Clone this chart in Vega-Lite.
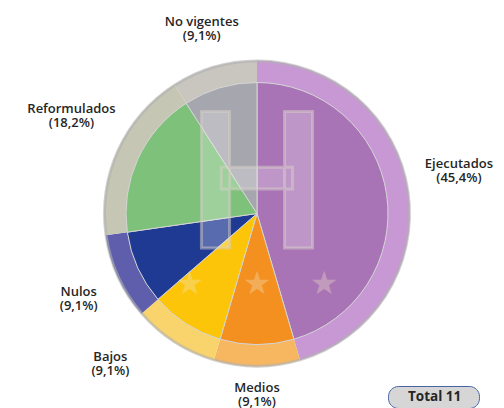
{
  "$schema": "https://vega.github.io/schema/vega-lite/v6.json",
  "width": 444,
  "height": 389,
  "autosize": "none",
  "padding": {"left": 35, "right": 25, "top": 19, "bottom": 0},
  "background": "white",
  "config": {
    "view": {"stroke": null},
    "text": {"font": "Open Sans", "fontWeight": 600, "fontSize": 13, "color": "#262626", "lineBreak": "\n", "lineHeight": 14},
    "legend": {
      "orient": "bottom-right",
      "offset": 0,
      "padding": 4,
      "fillColor": "#d6d6d6",
      "strokeColor": "#4763a6",
      "cornerRadius": 10,
      "labelFont": "Open Sans",
      "labelFontWeight": "bold",
      "labelFontSize": 13.5,
      "labelColor": "#262626",
      "labelOffset": 2,
      "symbolSize": 196,
      "symbolOpacity": 0,
      "symbolStrokeWidth": 0,
      "titleOrient": "right",
      "titlePadding": 14,
      "titleFontSize": 11
    }
  },
  "datasets": {
    "estados": [
      {"estado": "Ejecutados", "n": 5, "orden": 1, "label": "Ejecutados\n(45,4%)"},
      {"estado": "Medios", "n": 1, "orden": 2, "label": "Medios\n(9,1%)"},
      {"estado": "Bajos", "n": 1, "orden": 3, "label": "Bajos\n(9,1%)"},
      {"estado": "Nulos", "n": 1, "orden": 4, "label": "Nulos\n(9,1%)"},
      {"estado": "Reformulados", "n": 2, "orden": 5, "label": "Reformulados\n(18,2%)"},
      {"estado": "No vigentes", "n": 1, "orden": 6, "label": "No vigentes\n(9,1%)"}
    ],
    "total": [{"t": "Total 11"}]
  },
  "data": {"name": "estados"},
  "layer": [
    {
      "mark": {"type": "arc", "outerRadius": 153, "innerRadius": 131},
      "encoding": {
        "theta": {"field": "n", "type": "quantitative", "stack": true},
        "order": {"field": "orden", "type": "quantitative"},
        "color": {
          "field": "estado", "type": "nominal", "legend": null,
          "scale": {"domain": ["Ejecutados", "Medios", "Bajos", "Nulos", "Reformulados", "No vigentes"],
                    "range": ["#c798d4", "#f7b660", "#f9d46c", "#5e5eac", "#c5c6b3", "#c9c6c0"]}
        }
      }
    },
    {
      "mark": {"type": "arc", "outerRadius": 131, "stroke": "#d4d4d4", "strokeWidth": 1},
      "encoding": {
        "theta": {"field": "n", "type": "quantitative", "stack": true},
        "order": {"field": "orden", "type": "quantitative"},
        "color": {
          "field": "estado", "type": "nominal", "legend": null,
          "scale": {"domain": ["Ejecutados", "Medios", "Bajos", "Nulos", "Reformulados", "No vigentes"],
                    "range": ["#a974b6", "#f39020", "#fdc50a", "#1f3a93", "#7dc17a", "#a6a6ae"]}
        }
      }
    },
    {
      "mark": {"type": "arc", "outerRadius": 154, "innerRadius": 151, "color": "#b0b0b0", "opacity": 0.6},
      "encoding": {
        "theta": {"field": "n", "type": "quantitative", "stack": true},
        "order": {"field": "orden", "type": "quantitative"}
      }
    },
    {
      "data": {"name": "total"},
      "mark": {"type": "text", "text": "H", "font": "Roboto", "fontWeight": "bold", "fontSize": 192, "dy": -24, "fill": "#ffffff", "fillOpacity": 0.25, "stroke": "#d8d0c8", "strokeOpacity": 0.5, "strokeWidth": 3},
      "encoding": {}
    },
    {
      "data": {"name": "total"},
      "mark": {"type": "text", "text": "★\u2003\u2009★\u2003\u2009★", "font": "DejaVu Sans", "fontWeight": "normal", "fontSize": 32, "dy": 70, "fill": "#f4e6c8", "fillOpacity": 0.35},
      "encoding": {}
    },
    {
      "mark": {"type": "text", "radius": 196, "dy": -3},
      "encoding": {
        "theta": {"field": "n", "type": "quantitative", "stack": true},
        "order": {"field": "orden", "type": "quantitative"},
        "text": {"condition": {"test": "datum.estado === 'No vigentes' || datum.estado === 'Nulos'", "field": "label"}, "value": ""}
      }
    },
    {
      "mark": {"type": "text", "radius": 204, "dy": -20},
      "encoding": {
        "theta": {"field": "n", "type": "quantitative", "stack": true},
        "order": {"field": "orden", "type": "quantitative"},
        "text": {"condition": {"test": "datum.estado === 'Ejecutados' || datum.estado === 'Reformulados'", "field": "label"}, "value": ""}
      }
    },
    {
      "mark": {"type": "text", "radius": 177, "dy": -3},
      "encoding": {
        "theta": {"field": "n", "type": "quantitative", "stack": true},
        "order": {"field": "orden", "type": "quantitative"},
        "text": {"condition": {"test": "datum.estado === 'Medios'", "field": "label"}, "value": ""}
      }
    },
    {
      "mark": {"type": "text", "radius": 188, "dx": -45, "dy": -15},
      "encoding": {
        "theta": {"field": "n", "type": "quantitative", "stack": true},
        "order": {"field": "orden", "type": "quantitative"},
        "text": {"condition": {"test": "datum.estado === 'Bajos'", "field": "label"}, "value": ""}
      }
    },
    {
      "data": {"name": "total"},
      "mark": {"type": "point", "opacity": 0},
      "encoding": {
        "shape": {"field": "t", "type": "nominal", "legend": {"title": " "}}
      }
    }
  ],
  "resolve": {"scale": {"color": "independent"}}
}
